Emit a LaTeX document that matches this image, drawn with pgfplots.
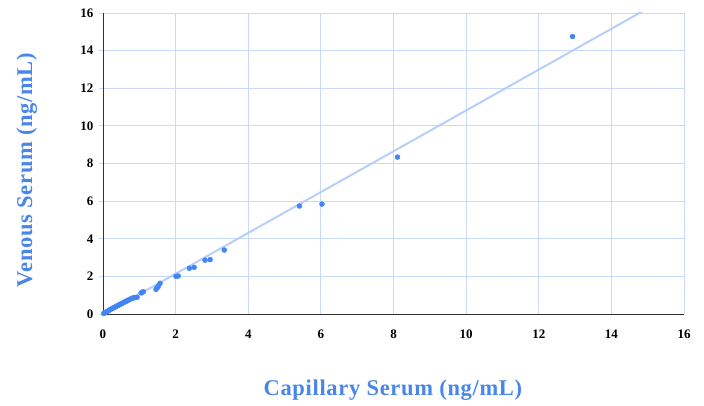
\documentclass[border=0pt]{standalone}
\usepackage{pgfplots}
\pgfplotsset{compat=1.18}
\usepackage{fontspec}
\setmainfont{Liberation Serif}
\newfontfamily\titlefont[LetterSpace=3]{Liberation Serif}
\definecolor{ptblue}{HTML}{4285F4}
\definecolor{trendblue}{HTML}{AECBFA}
\definecolor{gridblue}{HTML}{C9DAF8}
\definecolor{titleblue}{HTML}{4A86E8}
\begin{document}
\begin{tikzpicture}
\path[use as bounding box] (-103pt,-92pt) rectangle (601pt,314pt);
\begin{axis}[
  at={(0pt,0pt)}, anchor=south west,
  scale only axis, width=581pt, height=301pt,
  xmin=0, xmax=16, ymin=0, ymax=16,
  xtick={0,2,...,16}, ytick={0,2,...,16},
  grid=major,
  major grid style={draw=gridblue, line width=0.8pt},
  axis x line*=bottom, axis y line*=left,
  axis line style={draw=black!80, line width=0.8pt},
  tick align=outside,
  xtick style={draw=none},
  ytick style={draw=gridblue, line width=0.8pt},
  major tick length=4pt,
  /pgf/number format/assume math mode=true,
  ticklabel style={font=\fontsize{13}{15}\selectfont\bfseries, text=black},
  xticklabel style={yshift=-8pt},
  yticklabel style={xshift=-2pt},
  xlabel={Capillary Serum (ng/mL)},
  ylabel={Venous Serum (ng/mL)},
  label style={font=\titlefont\fontsize{22.5}{26}\selectfont\bfseries, text=titleblue},
  xlabel style={at={(axis description cs:0.499,-0.2525)}, anchor=center},
  ylabel style={at={(axis description cs:-0.131,0.478)}, anchor=center, rotate=0},
  clip=true,
]
\addplot[trendblue, line width=2pt, opacity=0.9] coordinates {(0,-0.03) (16,17.33)};
\addplot[only marks, mark=*, mark size=2.5pt, ptblue, mark options={draw=ptblue, fill=ptblue}] coordinates {
(0.02,0.03) (0.05,0.06) (0.08,0.10) (0.10,0.12) (0.13,0.15) (0.16,0.19)
(0.19,0.22) (0.22,0.26) (0.25,0.28) (0.28,0.32) (0.31,0.35) (0.34,0.38)
(0.37,0.41) (0.40,0.44) (0.43,0.47) (0.46,0.50) (0.49,0.53) (0.52,0.56)
(0.55,0.59) (0.58,0.62) (0.61,0.65) (0.64,0.68) (0.67,0.71) (0.70,0.74)
(0.74,0.78) (0.78,0.82) (0.82,0.85) (0.86,0.87) (0.90,0.88) (0.94,0.89)
(1.05,1.12) (1.08,1.16) (1.11,1.18)
(1.46,1.31) (1.48,1.37) (1.50,1.42) (1.52,1.46) (1.57,1.63)
(2.01,2.00) (2.07,2.02)
(2.38,2.43) (2.51,2.48)
(2.81,2.86) (2.95,2.89)
(3.34,3.40)
(5.41,5.74) (6.03,5.84)
(8.11,8.34)
(12.93,14.75)
};
\end{axis}
\end{tikzpicture}
\end{document}
